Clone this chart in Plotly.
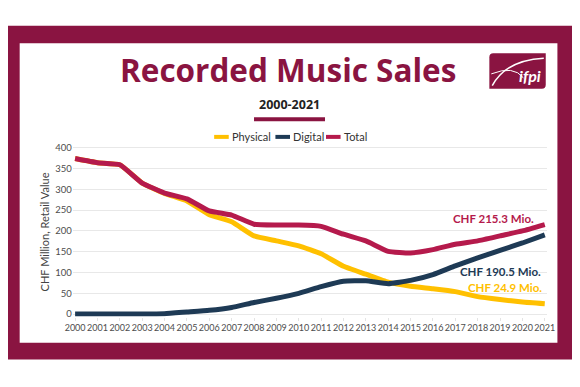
import plotly.graph_objects as go

years = list(range(2000, 2022))
physical = [374, 364, 359, 315, 290, 272, 239, 222, 188, 176, 164, 145, 115, 96, 77, 67, 61, 54, 42, 35, 29, 24.9]
digital = [0, 0, 0, 0, 1, 5, 9, 16, 28, 38, 50, 66, 79, 80, 73, 81, 95, 116, 135, 153, 171, 190.5]
total = [374, 364, 359, 315, 291, 277, 248, 238, 216, 214, 214, 211, 192, 176, 151, 147, 155, 168, 176, 188, 200, 215.3]
y_ticks = [0, 50, 100, 150, 200, 250, 300, 350, 400]

title = "Recorded Music Sales"
subtitle = "2000-2021"
y_title = "CHF Million, Retail Value"
series_names = ["Physical", "Digital", "Total"]
end_labels = ["CHF 24.9 Mio.", "CHF 190.5 Mio.", "CHF 215.3 Mio."]

C_PHY = "#FFC000"
C_DIG = "#1E3A55"
C_TOT = "#B51A4C"
MAROON = "#8A1441"

W, H = 580, 387
def px(x):
    return x / W
def py(y):
    return 1 - y / H

fig = go.Figure()
for name, vals, col in zip(series_names, [physical, digital, total], [C_PHY, C_DIG, C_TOT]):
    fig.add_trace(go.Scatter(x=years, y=vals, mode="lines", name=name,
                             line=dict(color=col, width=5, shape="spline", smoothing=0.4),
                             showlegend=False, hoverinfo="skip"))

# axes geometry
xr = [1999.9, 2021.1]
ppy = (552 - 69) / 21
xd = [px(69 - 0.1 * ppy), px(552 + 0.1 * ppy)]
yr = [-6, 406]
ppv = (316 - 147) / 400
yd = [py(316 + 6 * ppv), py(316 - 406 * ppv)]

fig.update_xaxes(range=xr, domain=xd, tickvals=years, ticktext=[str(y) for y in years],
                 showgrid=False, zeroline=False, showline=False,
                 ticks="outside", ticklen=3, tickcolor="#e3e3e3",
                 tickfont=dict(family="Lato", size=9, color="#4d4d4d"), tickangle=0)
fig.update_yaxes(range=yr, domain=yd, tickvals=y_ticks, showgrid=True, gridcolor="#e8e8e8",
                 gridwidth=1, zeroline=False, showline=False,
                 tickfont=dict(family="Lato", size=9.5, color="#4d4d4d"))

shapes = [
    dict(type="rect", xref="paper", yref="paper", x0=0, x1=1, y0=py(362), y1=py(23),
         fillcolor=MAROON, line=dict(width=0), layer="below"),
    dict(type="rect", xref="paper", yref="paper", x0=px(12), x1=px(565), y0=py(345), y1=py(41),
         fillcolor="white", line=dict(width=0), layer="below"),
    dict(type="rect", xref="paper", yref="paper", x0=px(253), x1=px(326), y0=py(120), y1=py(116),
         fillcolor=MAROON, line=dict(width=0)),
    # logo
    dict(type="path", xref="paper", yref="paper",
         path=f"M {px(499)},{py(51)} L {px(553)},{py(51)} L {px(553)},{py(83)} Q {px(553)},{py(87)} {px(549)},{py(87)} "
              f"L {px(495)},{py(87)} L {px(495)},{py(55)} Q {px(495)},{py(51)} {px(499)},{py(51)} Z",
         fillcolor=MAROON, line=dict(width=0)),
    dict(type="path", xref="paper", yref="paper",
         path=f"M {px(498)},{py(84)} Q {px(512)},{py(58)} {px(551)},{py(56)}",
         line=dict(color="white", width=1.5)),
    dict(type="path", xref="paper", yref="paper",
         path=f"M {px(497)},{py(72)} Q {px(520)},{py(63)} {px(530)},{py(76)}",
         line=dict(color="white", width=1)),
]
# manual legend
for (x0, col) in zip([212, 275, 327], [C_PHY, C_DIG, C_TOT]):
    shapes.append(dict(type="line", xref="paper", yref="paper", x0=px(x0), x1=px(x0 + 15),
                       y0=py(136), y1=py(136), line=dict(color=col, width=4)))

annotations = [
    dict(text=f"<b>{title}</b>", x=px(288), y=py(68), xref="paper", yref="paper",
         showarrow=False, font=dict(family="Open Sans", size=31.5, color=MAROON), xanchor="center", yanchor="middle"),
    dict(text=f"<b>{subtitle}</b>", x=px(289), y=py(103), xref="paper", yref="paper",
         showarrow=False, font=dict(family="Open Sans", size=12.5, color="#222222"), xanchor="center", yanchor="middle"),
    dict(text=f"<b><i>ifpi</i></b>", x=px(537), y=py(74), xref="paper", yref="paper",
         showarrow=False, font=dict(family="Lato", size=16, color="white"), xanchor="center", yanchor="middle"),
    dict(text=y_title, x=px(37), y=py(232), xref="paper", yref="paper", textangle=-90,
         showarrow=False, font=dict(family="Lato", size=11, color="#444444"), xanchor="center", yanchor="middle"),
]
for (x0, name) in zip([228, 291, 343], series_names):
    annotations.append(dict(text=name, x=px(x0), y=py(136), xref="paper", yref="paper",
                            showarrow=False, font=dict(family="Lato", size=11, color="#333333"),
                            xanchor="left", yanchor="middle"))
for (xr_, yy, col, txt) in zip([551, 550, 543], [289, 273, 219], [C_PHY, C_DIG, C_TOT], end_labels):
    annotations.append(dict(text=f"<b>{txt}</b>", x=px(xr_), y=py(yy), xref="paper", yref="paper",
                            showarrow=False, font=dict(family="Lato", size=11.5, color=col),
                            xanchor="right", yanchor="middle"))

fig.update_layout(width=W, height=H, margin=dict(l=0, r=0, t=0, b=0),
                  paper_bgcolor="white", plot_bgcolor="rgba(0,0,0,0)",
                  shapes=shapes, annotations=annotations)

fig.write_html("out.html", config={"displayModeBar": False},
               post_script="document.documentElement.style.margin='0';document.body.style.margin='0';"
                           "document.body.style.padding='0';document.documentElement.style.overflow='hidden';"
                           "document.body.style.overflow='hidden';")
